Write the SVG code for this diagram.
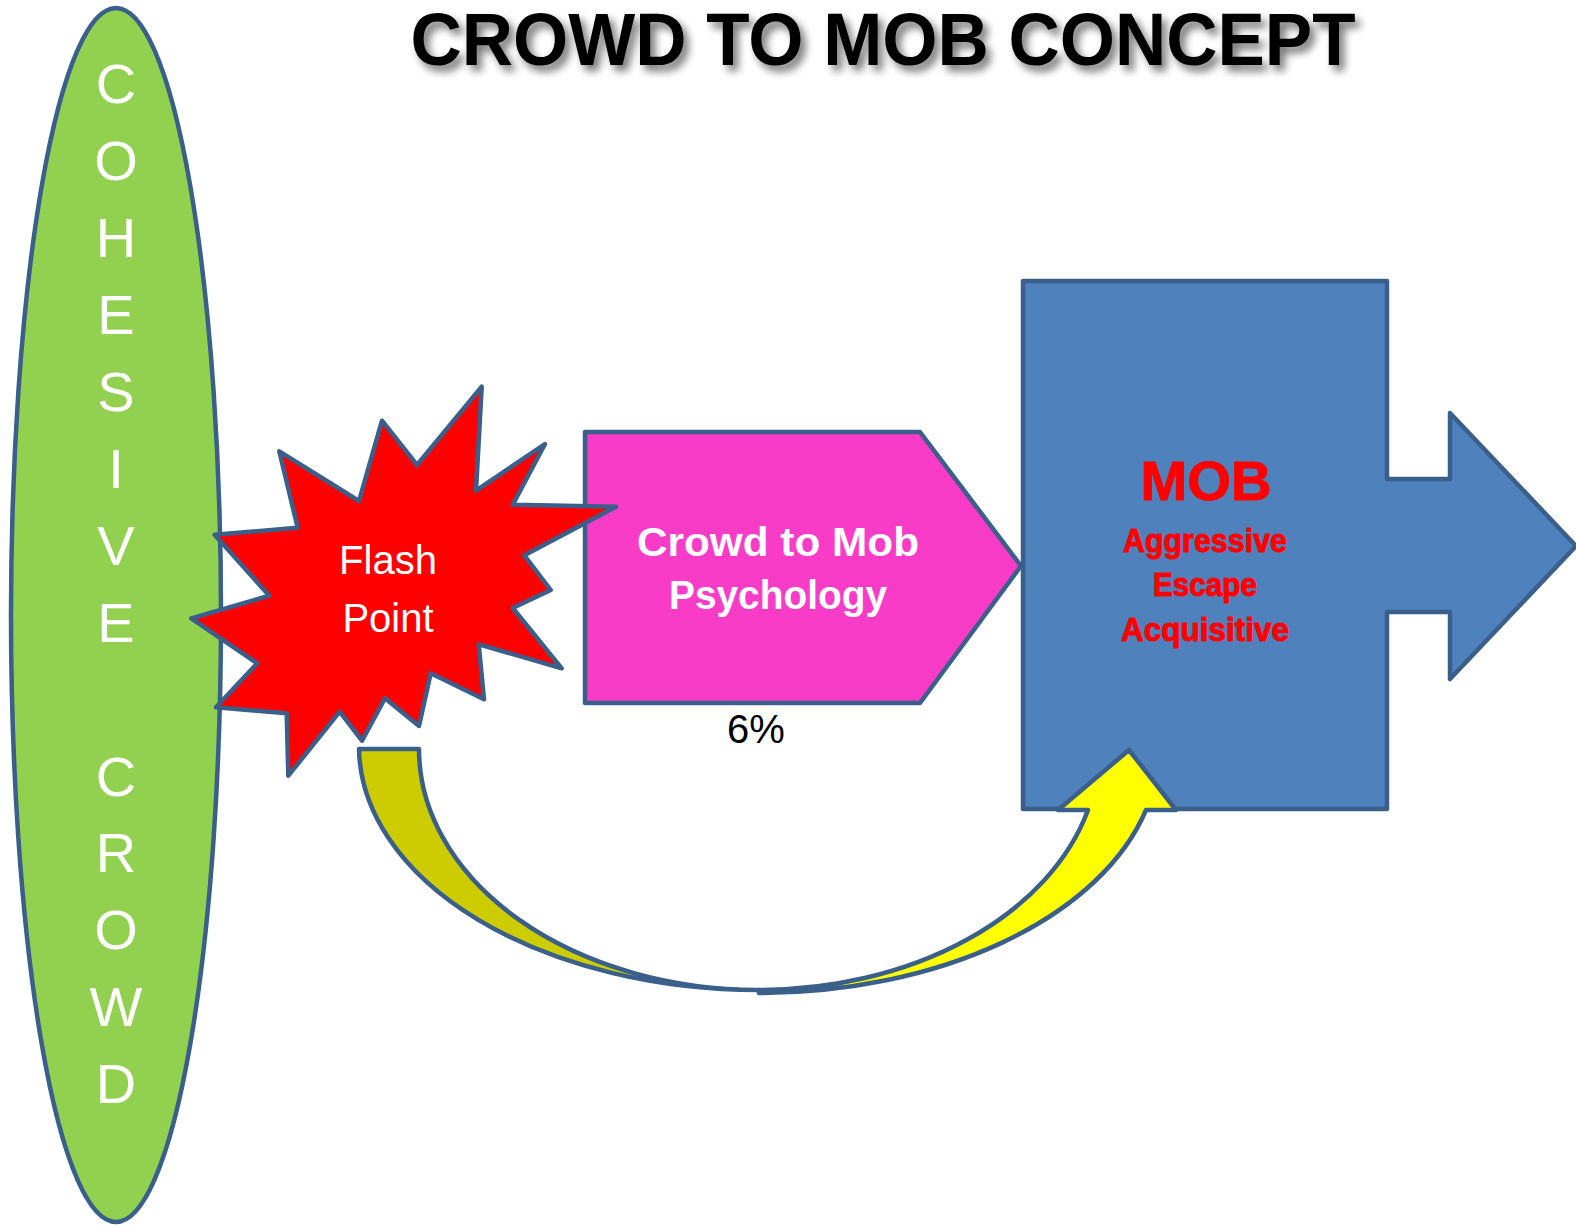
<svg xmlns="http://www.w3.org/2000/svg" width="1576" height="1228" viewBox="0 0 1576 1228">
<defs>
<style>
.outline{stroke:#3A5F8B;stroke-width:4.5;stroke-linejoin:round}
.sans{font-family:"Liberation Sans",Arial,sans-serif}
.white{fill:#FFFFFF}
.mob{fill:#FF0000;font-weight:bold;stroke:#FF0000;stroke-width:1}
</style>
<filter id="shadow" x="-10%" y="-30%" width="120%" height="170%">
<feGaussianBlur in="SourceAlpha" stdDeviation="4"/>
<feOffset dx="5" dy="6" result="b"/>
<feComponentTransfer><feFuncA type="linear" slope="0.55"/></feComponentTransfer>
<feMerge><feMergeNode/><feMergeNode in="SourceGraphic"/></feMerge>
</filter>
</defs>
<rect width="1576" height="1228" fill="#FFFFFF"/>

<g id="title">
<text x="883" y="65" text-anchor="middle" class="sans" font-size="74" font-weight="bold" fill="#000000" textLength="945" lengthAdjust="spacingAndGlyphs" filter="url(#shadow)">CROWD TO MOB CONCEPT</text>
</g>

<g id="cohesive-crowd">
<ellipse cx="116" cy="615" rx="105" ry="607" fill="#92D050" class="outline"/>
<text class="sans white" font-size="56" text-anchor="middle"><tspan x="116" y="103">C</tspan><tspan x="116" y="180">O</tspan><tspan x="116" y="257">H</tspan><tspan x="116" y="334">E</tspan><tspan x="116" y="411">S</tspan><tspan x="116" y="488">I</tspan><tspan x="116" y="565">V</tspan><tspan x="116" y="642">E</tspan><tspan x="116" y="796">C</tspan><tspan x="116" y="872">R</tspan><tspan x="116" y="949">O</tspan><tspan x="116" y="1026">W</tspan><tspan x="116" y="1103">D</tspan></text>
</g>

<g id="psychology">
<polygon points="585,432 920,432 1021,566 920,703 585,703" fill="#F83CC8" class="outline"/>
<text class="sans white" font-size="40" font-weight="bold" text-anchor="middle"><tspan x="778" y="556" textLength="282" lengthAdjust="spacingAndGlyphs">Crowd to Mob</tspan><tspan x="778" y="609" textLength="218" lengthAdjust="spacingAndGlyphs">Psychology</tspan></text>
<text x="756" y="743" class="sans" font-size="40" fill="#000000" text-anchor="middle">6%</text>
</g>

<g id="flash-point">
<polygon points="481.7,386.7 476,490.7 545,444 512.7,504.7 616,506.7 524.3,555.3 550.7,590 512.7,608 561.7,668.3 478.7,644.3 484,699.3 430.7,673.3 419,726 385,698.3 362,740.7 339.7,711.7 288.3,775.7 286.7,713.3 216,707.3 257.3,663.3 191.3,618.3 269.3,595.7 214.7,534.7 297.7,527.7 279.3,451.3 359,501 382,420.7 417,465" fill="#FF0000" class="outline"/>
<text class="sans white" font-size="40" text-anchor="middle"><tspan x="388" y="574">Flash</tspan><tspan x="388" y="632">Point</tspan></text>
</g>

<g id="mob">
<polygon points="1023,281 1387,281 1387,479 1450,479 1450,413 1576,546 1450,679 1450,612 1387,612 1387,809 1023,809" fill="#4F81BD" class="outline"/>
<text x="1206" y="500" text-anchor="middle" class="sans mob" font-size="56" textLength="131" lengthAdjust="spacingAndGlyphs">MOB</text>
<text class="sans mob" font-size="33" text-anchor="middle"><tspan x="1205" y="552" textLength="164" lengthAdjust="spacingAndGlyphs">Aggressive</tspan><tspan x="1205" y="596" textLength="104" lengthAdjust="spacingAndGlyphs">Escape</tspan><tspan x="1205" y="641" textLength="168" lengthAdjust="spacingAndGlyphs">Acquisitive</tspan></text>
</g>

<g id="connectors">
<path d="M 359 749 L 419 749 A 340 241 0 0 0 759 990 A 400 244 0 0 1 359 749 Z" fill="#CCCC00" class="outline"/>
<path d="M 759 993 A 400 244 0 0 0 1146 810 L 1176 810 L 1129 750 L 1058 810 L 1088 810 A 340 241 0 0 1 759 990 Z" fill="#FFFF00" class="outline"/>
</g>
</svg>
